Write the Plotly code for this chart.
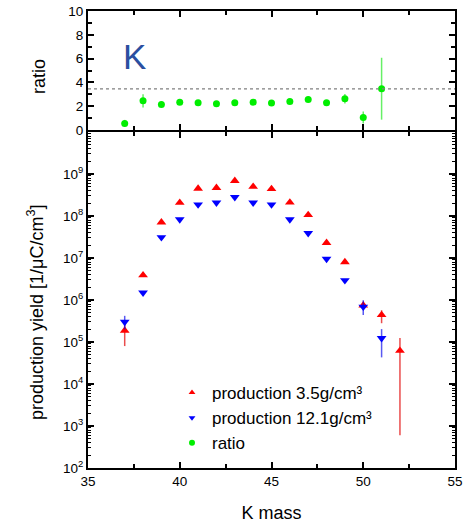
import plotly.graph_objects as go

# ---- data ----
mass = [37, 38, 39, 40, 41, 42, 43, 44, 45, 46, 47, 48, 49, 50, 51, 52]
prod_35 = [1.87e5, 3.9e6, 7.1e7, 2.07e8, 4.5e8, 4.7e8, 6.9e8, 5.0e8, 4.4e8, 2.1e8, 1.06e8, 2.3e7, 8.0e6, 7.5e5, 4.4e5, 6.2e4]
prod_35_err_up = [1.1e5, 0, 0, 0, 0, 0, 0, 0, 0, 0, 0, 0, 0, 1.0e5, 1.3e5, 6.3e4]
prod_35_err_dn = [1.07e5, 0, 0, 0, 0, 0, 0, 0, 0, 0, 0, 0, 0, 1.0e5, 1.6e5, 6.14e4]

mass_121 = [37, 38, 39, 40, 41, 42, 43, 44, 45, 46, 47, 48, 49, 50, 51]
prod_121 = [3.0e5, 1.49e6, 3.1e7, 8.3e7, 1.87e8, 2.07e8, 2.8e8, 2.07e8, 1.87e8, 8.3e7, 3.9e7, 9.5e6, 2.95e6, 6.9e5, 1.23e5]
prod_121_err_up = [1.2e5, 0, 0, 0, 0, 0, 0, 0, 0, 0, 0, 0, 0, 3.0e5, 8.0e4]
prod_121_err_dn = [1.0e5, 0, 0, 0, 0, 0, 0, 0, 0, 0, 0, 0, 0, 2.5e5, 8.0e4]

mass_ratio = [37, 38, 39, 40, 41, 42, 43, 44, 45, 46, 47, 48, 49, 50, 51]
ratio = [0.55, 2.45, 2.15, 2.34, 2.3, 2.2, 2.3, 2.34, 2.26, 2.4, 2.56, 2.3, 2.62, 1.05, 3.47]
ratio_err = [0.3, 0.55, 0.1, 0.1, 0.1, 0.1, 0.1, 0.1, 0.1, 0.1, 0.1, 0.1, 0.4, 0.5, 2.6]
ratio_ref = 3.45

ytick_exp = [2, 3, 4, 5, 6, 7, 8, 9]

FONT = "Liberation Sans, Arial, sans-serif"
W, H = 469, 525
ML, MR, MT, MB = 88, 14, 11, 57
PW, PH = W - ML - MR, H - MT - MB
LW = 2

RED, BLUE, GREEN = "#ff0000", "#0000ff", "#00ee00"

fig = go.Figure()

fig.add_trace(go.Scatter(
    x=mass, y=prod_35, mode="markers", showlegend=False,
    marker=dict(symbol="triangle-up", color=RED, size=8.5),
    error_y=dict(type="data", symmetric=False, array=prod_35_err_up, arrayminus=prod_35_err_dn,
                 color="rgba(225,0,0,0.7)", thickness=1.5, width=0),
    xaxis="x", yaxis="y"))
fig.add_trace(go.Scatter(
    x=mass_121, y=prod_121, mode="markers", showlegend=False,
    marker=dict(symbol="triangle-down", color=BLUE, size=8.5),
    error_y=dict(type="data", symmetric=False, array=prod_121_err_up, arrayminus=prod_121_err_dn,
                 color="rgba(0,0,235,0.65)", thickness=1.5, width=0),
    xaxis="x", yaxis="y"))
fig.add_trace(go.Scatter(
    x=mass_ratio, y=ratio, mode="markers", showlegend=False,
    marker=dict(symbol="circle", color=GREEN, size=7),
    error_y=dict(type="data", array=ratio_err, color="rgba(0,230,0,0.6)", thickness=1.5, width=0),
    xaxis="x2", yaxis="y2"))

# legend entries (small symbols, like the reference)
for name, sym, col in [("production 3.5g/cm³", "triangle-up", RED),
                       ("production 12.1g/cm³", "triangle-down", BLUE),
                       ("ratio", "circle", GREEN)]:
    fig.add_trace(go.Scatter(x=[None], y=[None], mode="markers", name=name,
                             marker=dict(symbol=sym, color=col, size=6),
                             xaxis="x", yaxis="y"))

split = 336 / PH

axis_common = dict(showline=True, linecolor="black", linewidth=LW, mirror="allticks",
                   ticks="inside", tickcolor="black", tickwidth=2, ticklen=6,
                   showgrid=False, zeroline=False, automargin=False,
                   tickfont=dict(family=FONT, size=13.5, color="black"))

fig.update_layout(
    width=W, height=H,
    margin=dict(l=ML, r=MR, t=MT, b=MB, autoexpand=False),
    paper_bgcolor="white", plot_bgcolor="white",
    font=dict(family=FONT, color="black"),
    xaxis=dict(domain=[0, 1], range=[35, 55], dtick=5, tick0=35,
               minor=dict(ticks="inside", ticklen=4, tickwidth=1.5, dtick=2.5, tickcolor="black"),
               title=dict(text="K mass", font=dict(size=18, family=FONT), standoff=18),
               anchor="y", **axis_common),
    yaxis=dict(domain=[0, split], type="log", range=[2, 10],
               tickvals=[10 ** e for e in ytick_exp],
               ticktext=["10<sup>%d</sup>" % e for e in ytick_exp],
               minor=dict(ticks="inside", ticklen=3, tickwidth=1.2, dtick="D1", tickcolor="black"),
               anchor="x", **axis_common),
    xaxis2=dict(domain=[0, 1], range=[35, 55], dtick=5, tick0=35, showticklabels=False,
                minor=dict(ticks="inside", ticklen=4, tickwidth=1.5, dtick=2.5, tickcolor="black"),
                anchor="y2", matches="x", **axis_common),
    yaxis2=dict(domain=[split + LW / PH, 1], range=[0, 10], dtick=2,
                minor=dict(ticks="inside", ticklen=4, tickwidth=1.5, dtick=1, tickcolor="black"),
                anchor="x2", **axis_common),
    legend=dict(x=(172 - ML) / PW, y=(H - MB - 375) / PH, xanchor="left", yanchor="top",
                bgcolor="rgba(0,0,0,0)",
                font=dict(family=FONT, size=17, color="black"), tracegroupgap=0),
    showlegend=True,
)

# y-axis titles
fig.add_annotation(x=(39 - ML) / PW, y=(H - MB - 77) / PH, xref="paper", yref="paper",
                   xanchor="center", yanchor="middle",
                   text="ratio", textangle=-90, showarrow=False,
                   font=dict(family=FONT, size=18, color="black"))
fig.add_annotation(x=(35 - ML) / PW, y=(H - MB - 312) / PH, xref="paper", yref="paper",
                   xanchor="center", yanchor="middle",
                   text="production yield [1/μC/cm<sup>3</sup>]", textangle=-90, showarrow=False,
                   font=dict(family=FONT, size=18, color="black"))

fig.add_shape(type="line", xref="x2", yref="y2", x0=35, x1=55, y0=ratio_ref, y1=ratio_ref,
              line=dict(color="gray", width=1.2, dash="dot"))

fig.add_annotation(x=37.56, y=6.2, xref="x2", yref="y2", text="K", showarrow=False,
                   font=dict(family=FONT, size=35, color="#2b4fa0"))

fig.write_html("out.html")
